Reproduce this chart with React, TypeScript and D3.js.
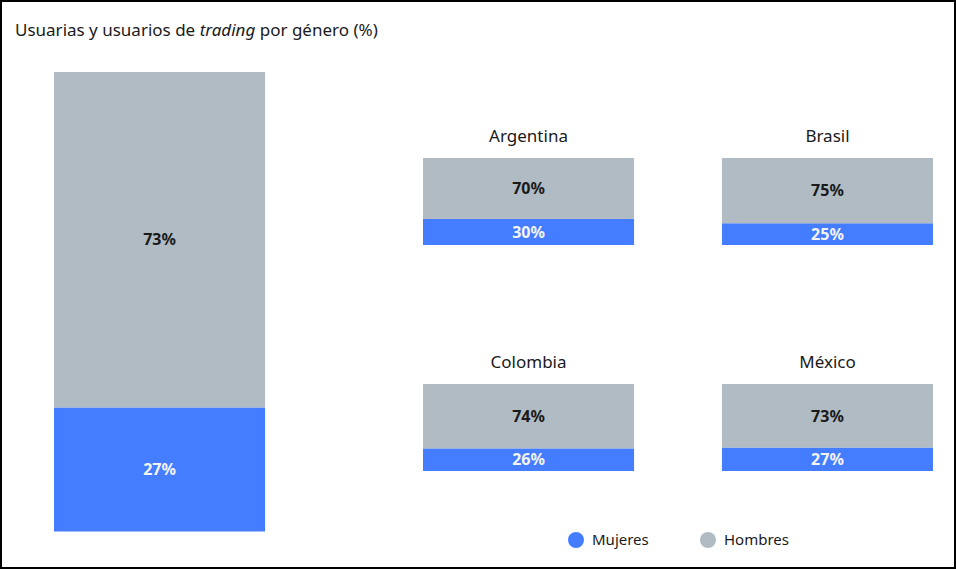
import * as d3 from 'd3';

const width = 956;
const height = 569;

const series = ['Mujeres', 'Hombres'];
const colors = ['#447dff', '#b0bbc4'];

const totalValues = [27, 73];

const countries = ['Argentina', 'Brasil', 'Colombia', 'México'];
const mujeres = [30, 25, 26, 27];
const hombres = [70, 75, 74, 73];

const FONT = '"Noto Sans", "Open Sans", sans-serif';

function StackedBar({ x, y, w, h, values }: { x: number; y: number; w: number; h: number; values: number[] }) {
  const yScale = d3.scaleLinear().domain([0, 100]).range([y + h, y]);
  let acc = 0;
  const segs = values.map((v, i) => {
    const y0 = acc;
    acc += v;
    return { v, i, y0, y1: acc };
  });
  return (
    <g>
      {segs.map((s) => (
        <rect key={'r' + s.i} x={x} y={yScale(s.y1)} width={w} height={yScale(s.y0) - yScale(s.y1)} fill={colors[s.i]} />
      ))}
      {segs.map((s) => (
        <text
          key={'t' + s.i}
          x={x + w / 2}
          y={(yScale(s.y0) + yScale(s.y1)) / 2}
          dy="0.36em"
          textAnchor="middle"
          fontWeight="bold"
          fontSize={16}
          fill={s.i === 0 ? '#f4f4f4' : '#1a1a1a'}
        >
          {s.v}%
        </text>
      ))}
    </g>
  );
}

export default function App() {
  const colX = d3.scaleBand<number>().domain([0, 1]).range([423, 933]).paddingInner(0.294);
  const rowY = d3.scaleBand<number>().domain([0, 1]).range([158, 471]).paddingInner(0.615);

  const legendX = d3.scalePoint<string>().domain(series).range([576, 708]);

  return (
    <div style={{ position: 'absolute', left: 0, top: 0 }}>
      <svg width={width} height={height} style={{ display: 'block', fontFamily: FONT }}>
        <rect x={1} y={1} width={width - 2} height={height - 2} fill="#fff" stroke="#000" strokeWidth={2} />
        <text x={15} y={36} fontSize={17} fill="#1a1a1a">
          Usuarias y usuarios de <tspan fontStyle="italic">trading</tspan> por género (%)
        </text>

        <StackedBar x={54} y={72} w={colX.bandwidth()} h={459.5} values={totalValues} />

        {countries.map((c, i) => {
          const col = i % 2;
          const row = Math.floor(i / 2);
          const x = colX(col) as number;
          const y = rowY(row) as number;
          return (
            <g key={c}>
              <text x={x + colX.bandwidth() / 2} y={y - 16} textAnchor="middle" fontSize={17} fill="#1a1a1a">
                {c}
              </text>
              <StackedBar x={x} y={y} w={colX.bandwidth()} h={rowY.bandwidth()} values={[mujeres[i], hombres[i]]} />
            </g>
          );
        })}

        {series.map((s, i) => (
          <g key={s} transform={`translate(${legendX(s)},540)`}>
            <circle r={8} fill={colors[i]} />
            <text x={16} dy="0.35em" fontSize={15} fill="#1a1a1a">
              {s}
            </text>
          </g>
        ))}
      </svg>
    </div>
  );
}
